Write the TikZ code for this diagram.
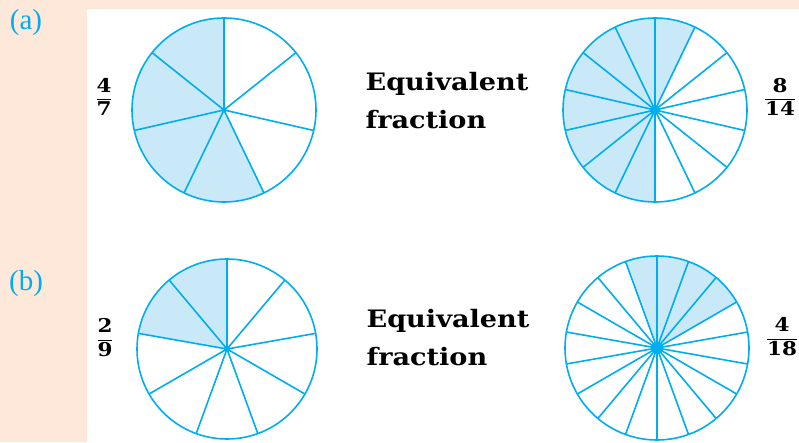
\documentclass[tikz,border=0pt]{standalone}
\usepackage{amsmath}
\usepackage{fontspec}
\setmainfont{Liberation Serif}
\newfontfamily\slabfont{DejaVu Serif}[FakeStretch=1.13]
\usetikzlibrary{positioning}
\definecolor{pageback}{HTML}{FDE8DA}
\definecolor{piecyan}{HTML}{00AEEF}
\definecolor{piefill}{HTML}{C9E9F8}

\begin{document}
\begin{tikzpicture}[x=1pt,y=1pt,
  spoke/.style={piecyan,line width=1.6pt},
  part/.style={text=piecyan,font=\fontsize{29}{30}\selectfont,inner sep=0pt},
  fr/.style={font=\slabfont\bfseries\fontsize{19}{20}\selectfont,inner sep=0pt},
  eq/.style={font=\slabfont\bfseries\fontsize{24}{38}\selectfont,align=left,inner sep=0pt}]
  \fill[pageback] (0,0) rectangle (799,442);
  \fill[white] (87,0) rectangle (799,433);
  \useasboundingbox (0,0) rectangle (799,442);
  \coordinate (pieA) at (224,332);
  \coordinate (pieAeq) at (655,332);
  \coordinate (pieB) at (227,93);
  \coordinate (pieBeq) at (657,94);
  % centre/radius/parts/first spoke/shaded parts
  \foreach \c/\r/\n/\s/\k in {pieA/92/7/90/4,pieAeq/92/14/64.2857/8,
                              pieB/90/9/90/2,pieBeq/92/18/30/4}{
    \fill[piefill] (\c) -- ++(\s:\r) arc[start angle=\s,delta angle=\k*360/\n,radius=\r] -- cycle;
    \foreach \j in {1,...,\n}
      \draw[spoke] (\c) -- ++({\s+\j*360/\n}:\r);
    \draw[spoke] (\c) circle[radius=\r];
    \fill[piecyan] (\c) circle[radius=\n/3];
  }
  \node[part] (labA) at (26,419) {(a)};
  \node[part] (labB) at (26,158) {(b)};
  \node[fr] (fracA) at (104,345) {$\dfrac{\text{4}}{\text{7}}$};
  \node[fr] (fracAeq) at (780,345) {$\dfrac{\text{8}}{\text{14}}$};
  \node[fr] (fracB) at (105,104) {$\dfrac{\text{2}}{\text{9}}$};
  \node[fr] (fracBeq) at (782,105) {$\dfrac{\text{4}}{\text{18}}$};
  \node[eq] (eqA) at (447,341) {Equivalent\\fraction};
  \node[eq] (eqB) at (448,104) {Equivalent\\fraction};
\end{tikzpicture}
\end{document}
